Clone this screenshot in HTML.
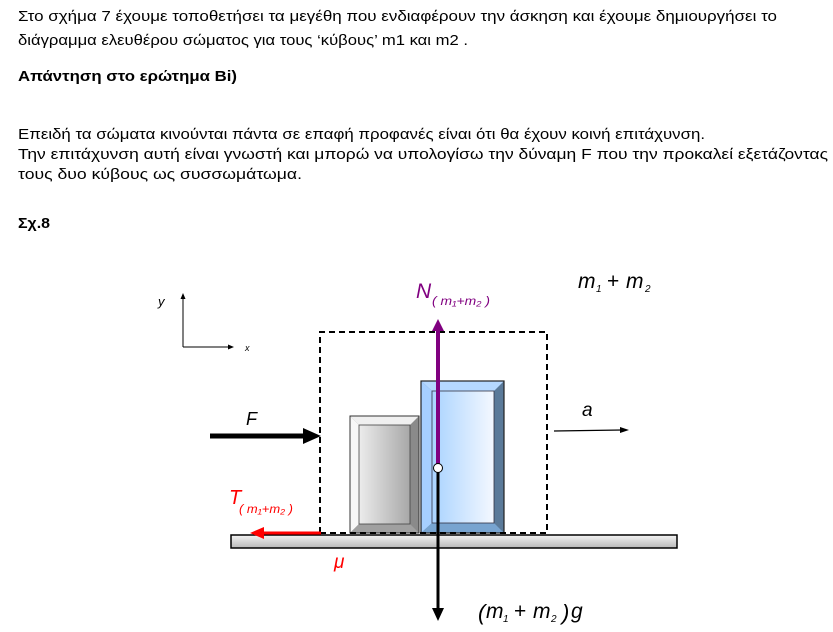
<!DOCTYPE html>
<html><head><meta charset="utf-8"><style>
html,body{margin:0;padding:0;background:#fff;width:833px;height:632px;overflow:hidden}
svg{display:block}
text{font-family:"Liberation Sans",Arial,sans-serif}
</style></head><body>
<svg width="833" height="632" viewBox="0 0 833 632" xmlns="http://www.w3.org/2000/svg">
<defs>
<linearGradient id="gg" x1="0" x2="1"><stop offset="0" stop-color="#ececec"/><stop offset="1" stop-color="#a8a8a8"/></linearGradient>
<linearGradient id="bg" x1="0" x2="1"><stop offset="0" stop-color="#a9d3ff"/><stop offset="1" stop-color="#f4f8ff"/></linearGradient>
<linearGradient id="gr" x1="0" y1="0" x2="0" y2="1"><stop offset="0" stop-color="#f4f4f4"/><stop offset="1" stop-color="#b8b8b8"/></linearGradient>
</defs>
<g font-size="15" fill="#000">
<text x="18" y="21" textLength="759" lengthAdjust="spacingAndGlyphs">Στο σχήμα 7 έχουμε τοποθετήσει τα μεγέθη που ενδιαφέρουν την άσκηση και έχουμε  δημιουργήσει το</text>
<text x="18" y="45" textLength="450" lengthAdjust="spacingAndGlyphs">διάγραμμα ελευθέρου σώματος για τους ‘κύβους’  m1 και m2 .</text>
<text x="18" y="81" font-weight="bold" textLength="219" lengthAdjust="spacingAndGlyphs">Απάντηση στο ερώτημα Βi)</text>
<text x="18" y="139" textLength="687" lengthAdjust="spacingAndGlyphs">Επειδή τα σώματα κινούνται πάντα σε επαφή προφανές είναι ότι θα έχουν κοινή επιτάχυνση.</text>
<text x="18" y="159" textLength="810" lengthAdjust="spacingAndGlyphs">Την επιτάχυνση αυτή είναι γνωστή και  μπορώ  να  υπολογίσω  την δύναμη F που την προκαλεί  εξετάζοντας</text>
<text x="18" y="179" textLength="284" lengthAdjust="spacingAndGlyphs">τους δυο κύβους ως συσσωμάτωμα.</text>
<text x="18" y="228" font-weight="bold" textLength="32" lengthAdjust="spacingAndGlyphs">Σχ.8</text>
</g>
<!-- axes -->
<line x1="183" y1="297" x2="183" y2="347" stroke="#000"/>
<polygon points="183,293 180.5,299 185.5,299" fill="#000"/>
<line x1="183" y1="347" x2="230" y2="347" stroke="#000"/>
<polygon points="234,347 228,344.5 228,349.5" fill="#000"/>
<text x="158" y="306" font-size="13" font-style="italic">y</text>
<text x="245" y="351" font-size="9" font-style="italic">x</text>
<!-- ground -->
<rect x="231" y="535" width="446" height="13" fill="url(#gr)" stroke="#000" stroke-width="1.5"/>
<!-- gray block -->
<rect x="350" y="416" width="69" height="117" fill="#8a8a8a" stroke="#333"/>
<polygon points="350,416 419,416 410,425 359,425" fill="#f0f0f0"/>
<polygon points="350,416 359,425 359,524 350,533" fill="#f7f7f7"/>
<polygon points="350,533 359,524 410,524 419,533" fill="#a0a0a0"/>
<rect x="359" y="425" width="51" height="99" fill="url(#gg)" stroke="#444" stroke-width="0.8"/>
<rect x="350" y="416" width="69" height="117" fill="none" stroke="#333"/>
<!-- blue block -->
<rect x="421" y="381" width="83" height="152" fill="#5b7a99"/>
<polygon points="421,381 504,381 494,391 432,391" fill="#b5d8ff"/>
<polygon points="421,381 432,391 432,523 421,533" fill="#a6cfff"/>
<polygon points="421,533 432,523 494,523 504,533" fill="#78a4d0"/>
<rect x="432" y="391" width="62" height="132" fill="url(#bg)" stroke="#334" stroke-width="0.8"/>
<rect x="421" y="381" width="83" height="152" fill="none" stroke="#222" stroke-width="1.2"/>
<!-- dashed box -->
<path d="M320,533 V332 H547 V533 H320" fill="none" stroke="#000" stroke-width="2" stroke-dasharray="6,4"/>
<!-- N -->
<line x1="438" y1="330" x2="438" y2="468" stroke="#800080" stroke-width="4"/>
<polygon points="438,319 432,331 444,331" fill="#800080"/>
<text x="416" y="298" font-size="21" font-style="italic" fill="#800080">N</text>
<text x="432" y="305" font-size="12" font-style="italic" fill="#800080" textLength="58" lengthAdjust="spacingAndGlyphs">( m₁+m₂ )</text>
<!-- weight -->
<line x1="438" y1="468" x2="438" y2="610" stroke="#000" stroke-width="3"/>
<polygon points="438,621 432,608 444,608" fill="#000"/>
<circle cx="438" cy="468" r="4.5" fill="#fff" stroke="#000"/>
<text x="478" y="620" font-size="22" font-style="italic">(</text>
<text x="486" y="618" font-size="21" font-style="italic">m</text>
<text x="503" y="622" font-size="10" font-style="italic">1</text>
<text x="514" y="618" font-size="21">+</text>
<text x="533" y="618" font-size="21" font-style="italic">m</text>
<text x="551" y="622" font-size="10" font-style="italic">2</text>
<text x="562" y="620" font-size="22" font-style="italic">)</text>
<text x="571" y="618" font-size="21" font-style="italic">g</text>
<!-- m1+m2 label -->
<text x="578" y="288" font-size="21" font-style="italic">m</text>
<text x="596" y="292" font-size="10" font-style="italic">1</text>
<text x="607" y="288" font-size="21">+</text>
<text x="626" y="288" font-size="21" font-style="italic">m</text>
<text x="645" y="292" font-size="10" font-style="italic">2</text>
<!-- F -->
<line x1="210" y1="436" x2="306" y2="436" stroke="#000" stroke-width="5"/>
<polygon points="321,436 303,428 303,444" fill="#000"/>
<text x="246" y="425" font-size="18" font-style="italic">F</text>
<!-- a -->
<line x1="554" y1="431" x2="622" y2="430" stroke="#000" stroke-width="1.2"/>
<polygon points="629,430 620,427 620,433" fill="#000"/>
<text x="582" y="416" font-size="19" font-style="italic">a</text>
<!-- T -->
<line x1="262" y1="533" x2="321" y2="533" stroke="#f00" stroke-width="3"/>
<polygon points="250,533 264,527 264,539" fill="#f00"/>
<text x="229" y="504" font-size="20" font-style="italic" fill="#f00">T</text>
<text x="239" y="513" font-size="12" font-style="italic" fill="#f00" textLength="54" lengthAdjust="spacingAndGlyphs">( m₁+m₂ )</text>
<text x="334" y="568" font-size="19" font-style="italic" fill="#f00">μ</text>
</svg>
</body></html>
